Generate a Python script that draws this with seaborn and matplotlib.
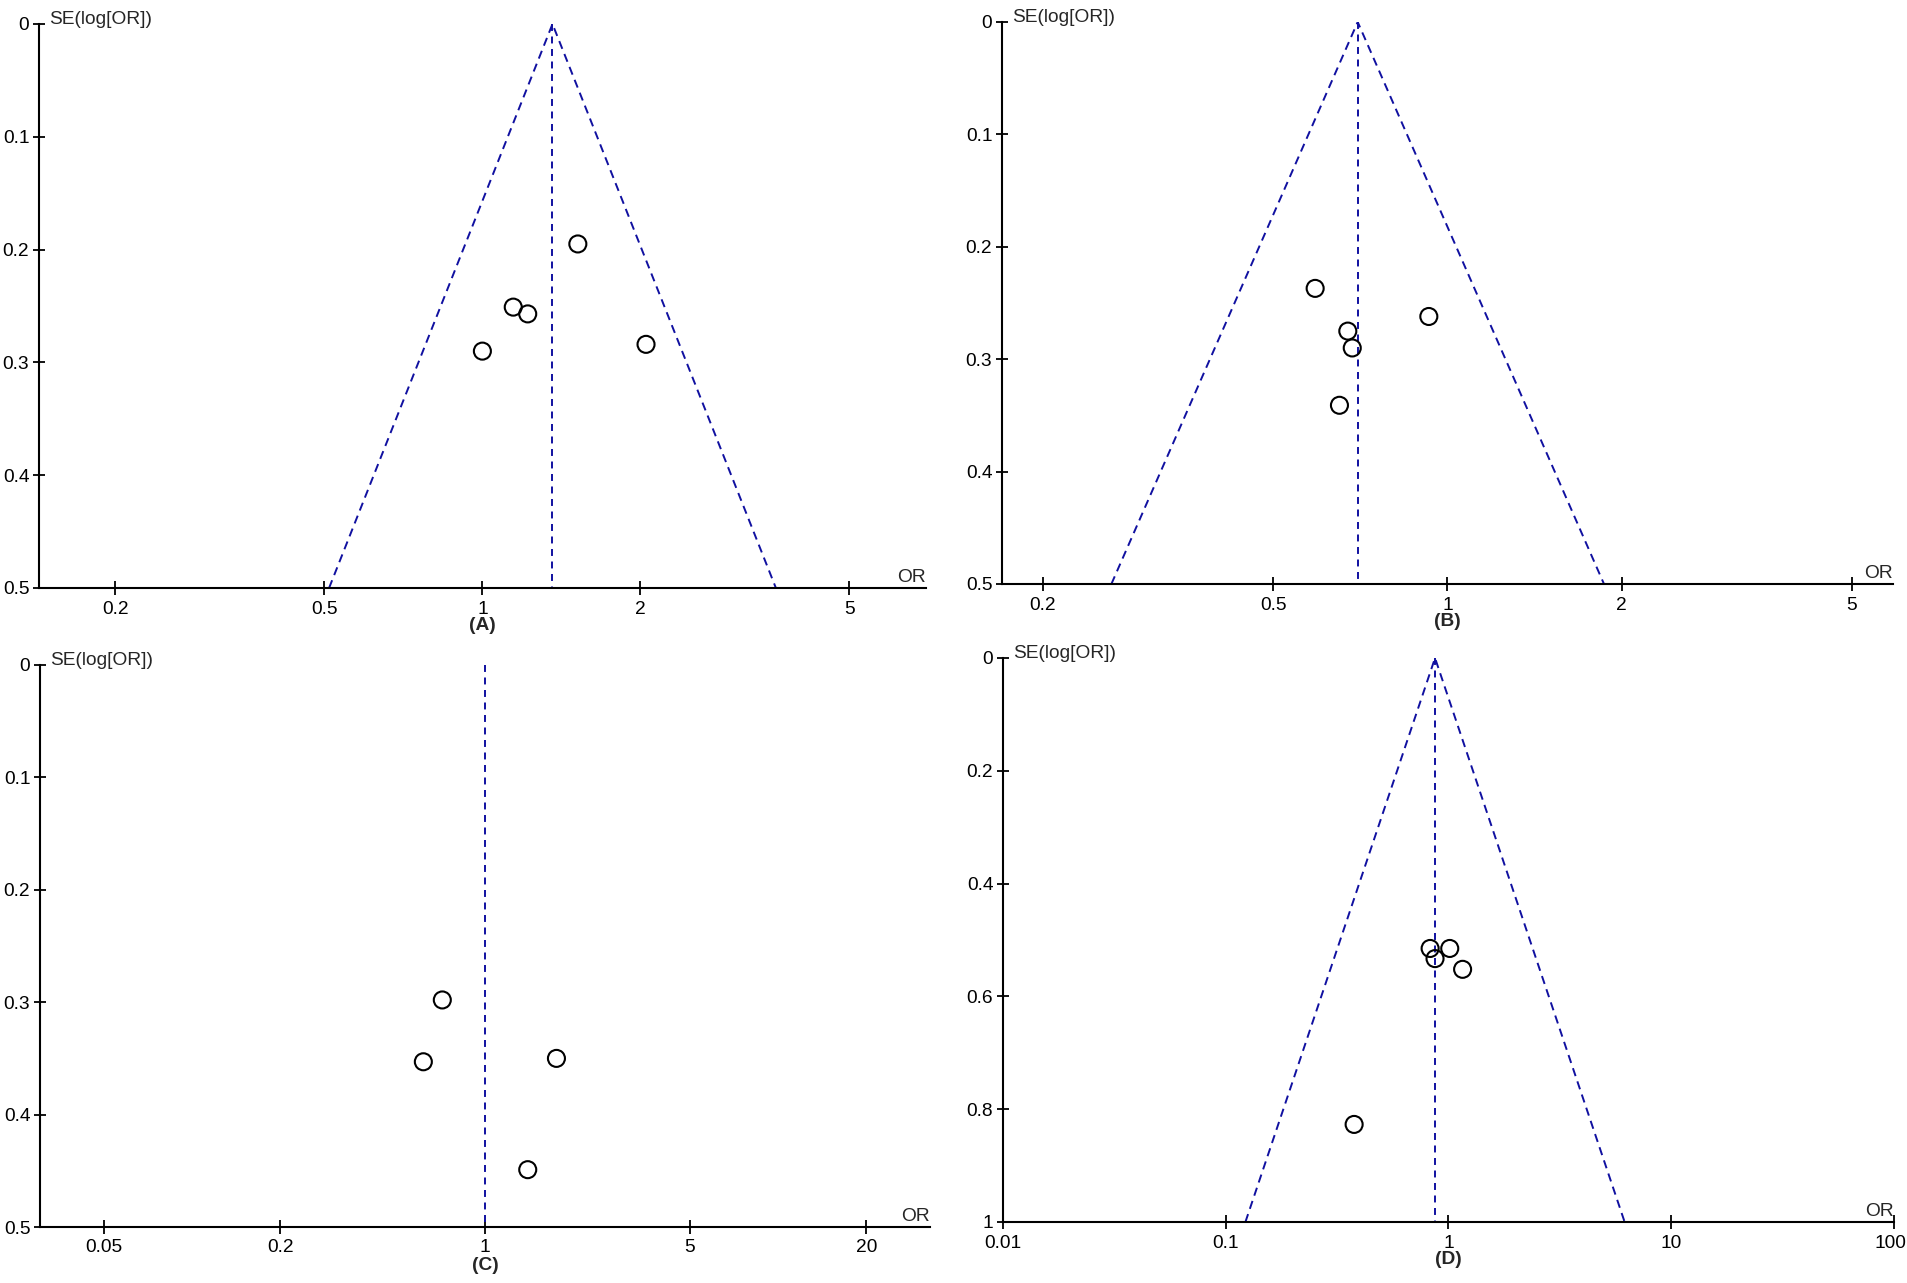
import numpy as np
import pandas as pd
import matplotlib
matplotlib.use("Agg")
import matplotlib.pyplot as plt
import matplotlib.transforms as mtransforms
import seaborn as sns

# funnel plots, four panels

# panel A
a_or = [1.52, 1.145, 1.22, 1.0, 2.05]
a_se = [0.195, 0.251, 0.257, 0.290, 0.284]
a_center = 1.36

# panel B
b_or = [0.591, 0.929, 0.673, 0.685, 0.651]
b_se = [0.237, 0.262, 0.275, 0.290, 0.341]
b_center = 0.70

# panel C (no funnel drawn)
c_or = [0.715, 0.616, 1.753, 1.399]
c_se = [0.298, 0.353, 0.350, 0.449]
c_center = 1.0

# panel D
d_or = [0.827, 1.013, 0.870, 1.157, 0.377]
d_se = [0.515, 0.515, 0.533, 0.552, 0.827]
d_center = 0.87

panel_names = ["(A)", "(B)", "(C)", "(D)"]
se_max = [0.5, 0.5, 0.5, 1.0]
xlims = [(0.143, 7.0), (0.17, 5.89), (0.0303, 33.0), (0.01, 100)]
xticks = [[0.2, 0.5, 1, 2, 5], [0.2, 0.5, 1, 2, 5],
          [0.05, 0.2, 1, 5, 20], [0.01, 0.1, 1, 10, 100]]
xticklabels = [["0.2", "0.5", "1", "2", "5"], ["0.2", "0.5", "1", "2", "5"],
               ["0.05", "0.2", "1", "5", "20"], ["0.01", "0.1", "1", "10", "100"]]
yticks = [[0, 0.1, 0.2, 0.3, 0.4, 0.5]] * 3 + [[0, 0.2, 0.4, 0.6, 0.8, 1.0]]
yticklabels = [["0", "0.1", "0.2", "0.3", "0.4", "0.5"]] * 3 + \
              [["0", "0.2", "0.4", "0.6", "0.8", "1"]]
show_funnel = [True, True, False, True]

sns.set_style("white")
plt.rcParams['font.family'] = ['Liberation Sans', 'DejaVu Sans']
plt.rcParams['lines.scale_dashes'] = False

W, H = 1908, 1283
fig = plt.figure(figsize=(W / 100, H / 100), dpi=100)

# axes boxes in pixels: left, right, top, bottom
boxes = [(39, 926, 24, 588), (1002, 1893, 22, 584),
         (40, 930, 665, 1227), (1003, 1894, 658, 1222)]

datasets = [(a_or, a_se, a_center), (b_or, b_se, b_center),
            (c_or, c_se, c_center), (d_or, d_se, d_center)]

line_col = "#1010A0"
fs = 13.8

for i, (l, r, t, b) in enumerate(boxes):
    ax = fig.add_axes([l / W, 1 - b / H, (r - l) / W, (b - t) / H])
    ors, ses, center = datasets[i]
    df = pd.DataFrame({"OR": ors, "SE": ses})
    smax = se_max[i]

    # vertical line at pooled estimate
    ax.plot([center, center], [0, smax], color=line_col, lw=1.4,
            linestyle=(0, (5, 4)), zorder=1)
    if show_funnel[i]:
        lo = center * np.exp(-1.96 * smax)
        hi = center * np.exp(1.96 * smax)
        ax.plot([lo, center, hi], [smax, 0, smax], color=line_col, lw=1.4,
                linestyle=(0, (6, 4)), zorder=1)

    sns.scatterplot(data=df, x="OR", y="SE", ax=ax, marker="o", s=150,
                    facecolor="none", edgecolor="black", linewidth=1.5,
                    zorder=3)

    ax.set_xscale("log")
    ax.set_xlim(*xlims[i])
    ax.set_ylim(smax, 0)
    ax.set_xticks(xticks[i])
    ax.set_xticklabels(xticklabels[i])
    ax.minorticks_off()
    ax.set_yticks(yticks[i])
    ax.set_yticklabels(yticklabels[i])
    ax.set_xlabel("")
    ax.set_ylabel("")

    for s in ["top", "right"]:
        ax.spines[s].set_visible(False)
    for s in ["left", "bottom"]:
        ax.spines[s].set_linewidth(1.5)
        ax.spines[s].set_color("black")
    ax.tick_params(axis="x", bottom=True, direction="inout", length=10,
                   width=1.3, pad=4, labelsize=fs, colors="black")
    ax.tick_params(axis="y", left=True, direction="inout", length=8,
                   width=1.3, pad=3, labelsize=fs, colors="black")
    ax.set_facecolor("white")

    # keep the last label of panel D inside the figure
    if i == 3:
        last = ax.get_xticklabels()[-1]
        shift = mtransforms.ScaledTranslation(-4 / 100, 0, fig.dpi_scale_trans)
        last.set_transform(last.get_transform() + shift)

    # axis captions
    ax.annotate("SE(log[OR])", xy=(0, 1), xycoords="axes fraction",
                xytext=(7, 0), textcoords="offset points",
                ha="left", va="baseline", fontsize=fs)
    ax.annotate("OR", xy=(1, 0), xycoords="axes fraction",
                xytext=(0, 4), textcoords="offset points",
                ha="right", va="baseline", fontsize=fs)
    ax.annotate(panel_names[i], xy=(0.5, 0), xycoords="axes fraction",
                xytext=(0, -38), textcoords="offset pixels",
                ha="center", va="center", fontsize=fs, fontweight="bold")

fig.savefig("out.png", dpi=100, facecolor="white")
